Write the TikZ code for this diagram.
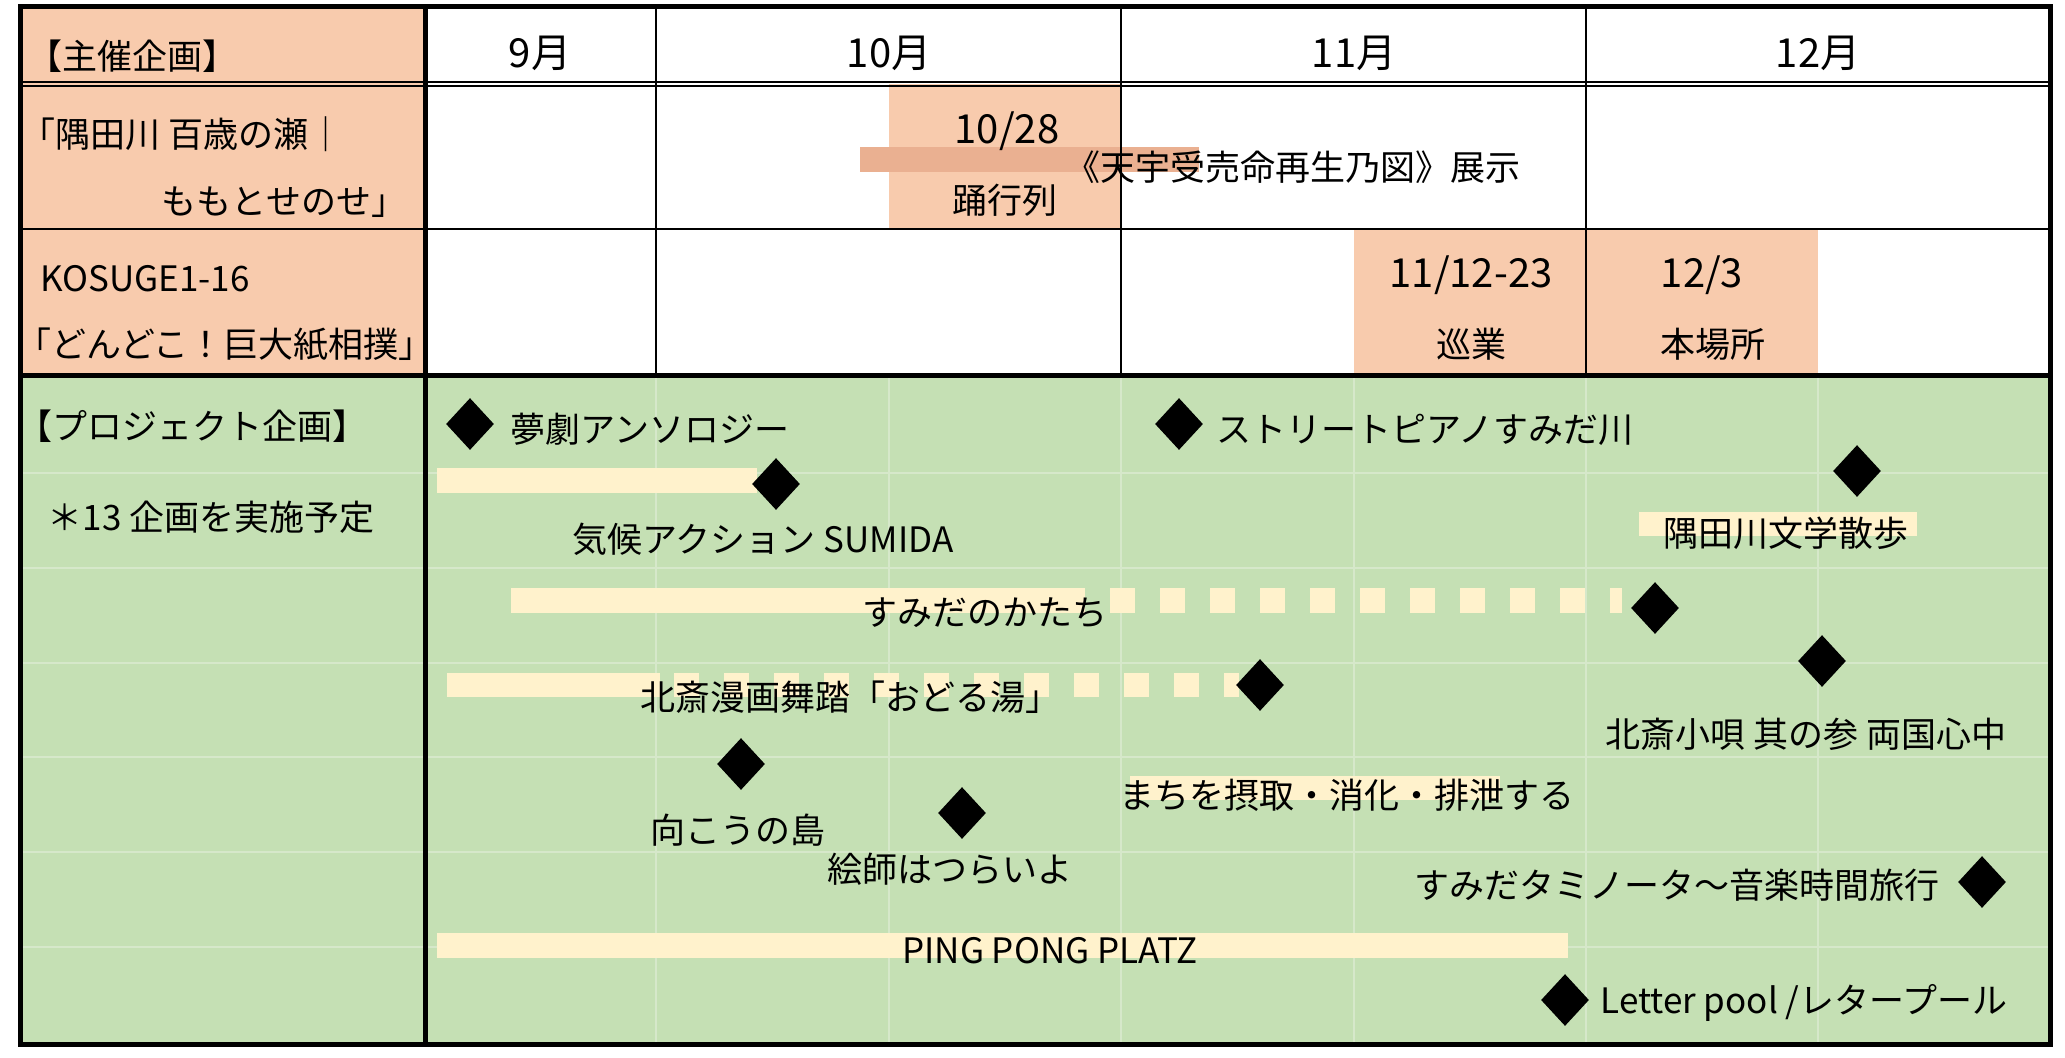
\documentclass[tikz,border=0pt]{standalone}
\usepackage{fontspec}
\setmainfont{Noto Sans CJK JP}
\usetikzlibrary{shapes.geometric}
\definecolor{peach}{RGB}{248,203,173}
\definecolor{salmon}{RGB}{234,176,145}
\definecolor{leaf}{RGB}{197,224,180}
\definecolor{cream}{RGB}{255,242,204}
\definecolor{leafgrid}{RGB}{214,232,202}

\begin{document}
\begin{tikzpicture}[x=0.5pt, y=-0.5pt,
    lbl/.style={inner sep=0pt, text height=15.4pt, text depth=2.1pt,
        font=\fontsize{17.5pt}{21pt}\selectfont},
    datelbl/.style={lbl, font=\fontsize{20pt}{24pt}\selectfont},
    gem/.style={diamond, fill=black, inner sep=0pt,
        minimum width=24pt, minimum height=26pt}]
    \fill[white] (0,0) rectangle (2065,1057);
    \useasboundingbox (0,0) rectangle (2065,1057);

    % cell fills
    \fill[peach] (20,6) rectangle (425,375);
    \fill[leaf] (20,375) rectangle (2050,1044);
    \fill[peach] (889,84) rectangle (1121,229);
    \fill[peach] (1354,229) rectangle (1818,375);

    % faint sheet grid
    \foreach \gx in {656,889,1121,1354,1586,1818}
        \draw[leafgrid, line width=0.75pt] (\gx,375) -- (\gx,1044);
    \foreach \gy in {473,568,663,757,852,947}
        \draw[leafgrid, line width=0.75pt] (20,\gy) -- (2050,\gy);

    % bars
    \fill[salmon] (860,147) rectangle (1199,172);
    \fill[cream] (437,468) rectangle (757,493);
    \fill[cream] (1639,512) rectangle (1917,536);
    \fill[cream] (511,588) rectangle (1085,613);
    \draw[cream, line width=12.5pt, dash pattern=on 12.5pt off 12.5pt] (1110,600.5) -- (1622,600.5);
    \fill[cream] (447,673) rectangle (660,697);
    \draw[cream, line width=12pt, dash pattern=on 12.5pt off 12.5pt] (674,685) -- (1239,685);
    \fill[cream] (1130,776) rectangle (1500,800);
    \fill[cream] (437,933) rectangle (1568,958);

    % rules
    \draw[line width=2.5pt] (20,6) rectangle (2050,1044);
    \draw[line width=2.5pt] (425,6) -- (425,1044);
    \draw[line width=2.5pt] (20,375) -- (2050,375);
    \draw[line width=0.75pt] (20,82) -- (2050,82) (20,86) -- (2050,86);
    \draw[line width=1pt] (20,229) -- (2050,229);
    \foreach \mx in {656,1121,1586}
        \draw[line width=1pt] (\mx,6) -- (\mx,375);

    % header row
    \node[lbl] (host) at (132,56) {【主催企画】};
    \node[datelbl] (sep) at (540,54) {9月};
    \node[datelbl] (oct) at (889,54) {10月};
    \node[datelbl] (nov) at (1354,54) {11月};
    \node[datelbl] (dec) at (1818,54) {12月};

    % sumida river row
    \node[lbl] (riverA) at (182,134) {「隅田川 百歳の瀬｜};
    \node[lbl] (riverB) at (284,201) {ももとせのせ」};
    \node[datelbl] (paradeD) at (1007,130) {10/28};
    \node[lbl] (paradeT) at (1005,200) {踊行列};
    \node[lbl] (expo) at (1293,167) {《天宇受売命再生乃図》展示};

    % sumo row
    \node[lbl, anchor=west] (sumoA) at (40,278) {KOSUGE1-16};
    \node[lbl] (sumoB) at (225,344) {「どんどこ！巨大紙相撲」};
    \node[datelbl] (tourD) at (1471,274) {11/12-23};
    \node[lbl] (tourT) at (1471,344) {巡業};
    \node[datelbl] (mainD) at (1702,274) {12/3};
    \node[lbl] (mainT) at (1713,344) {本場所};

    % project side
    \node[lbl] (proj) at (193,426) {【プロジェクト企画】};
    \node[lbl] (count) at (211,517) {＊13 企画を実施予定};

    % project items
    \node[gem] (g1) at (470,424) {};
    \node[lbl, anchor=west] (p1) at (510,429) {夢劇アンソロジー};
    \node[gem] (g2) at (1179,424) {};
    \node[lbl, anchor=west] (p2) at (1216,429) {ストリートピアノすみだ川};
    \node[gem] (g3) at (776,484) {};
    \node[lbl] (p3) at (763,539) {気候アクション SUMIDA};
    \node[gem] (g4) at (1857,471) {};
    \node[lbl] (p4) at (1786,533) {隅田川文学散歩};
    \node[gem] (g5) at (1655,608) {};
    \node[lbl] (p5) at (985,612) {すみだのかたち};
    \node[gem] (g6) at (1260,685) {};
    \node[lbl] (p6) at (850,697) {北斎漫画舞踏「おどる湯」};
    \node[gem] (g7) at (1822,661) {};
    \node[lbl] (p7) at (1806,734) {北斎小唄 其の参 両国心中};
    \node[gem] (g8) at (741,764) {};
    \node[lbl] (p8) at (738,830) {向こうの島};
    \node[gem] (g9) at (962,813) {};
    \node[lbl] (p9) at (950,869) {絵師はつらいよ};
    \node[lbl] (p10) at (1347,795) {まちを摂取・消化・排泄する};
    \node[gem] (g11) at (1982,882) {};
    \node[lbl, anchor=east] (p11) at (1940,885) {すみだタミノータ〜音楽時間旅行};
    \node[lbl] (p12) at (1050,950) {PING PONG PLATZ};
    \node[gem] (g13) at (1565,1000) {};
    \node[lbl, anchor=west] (p13) at (1600,1000) {Letter pool /レタープール};
\end{tikzpicture}
\end{document}
